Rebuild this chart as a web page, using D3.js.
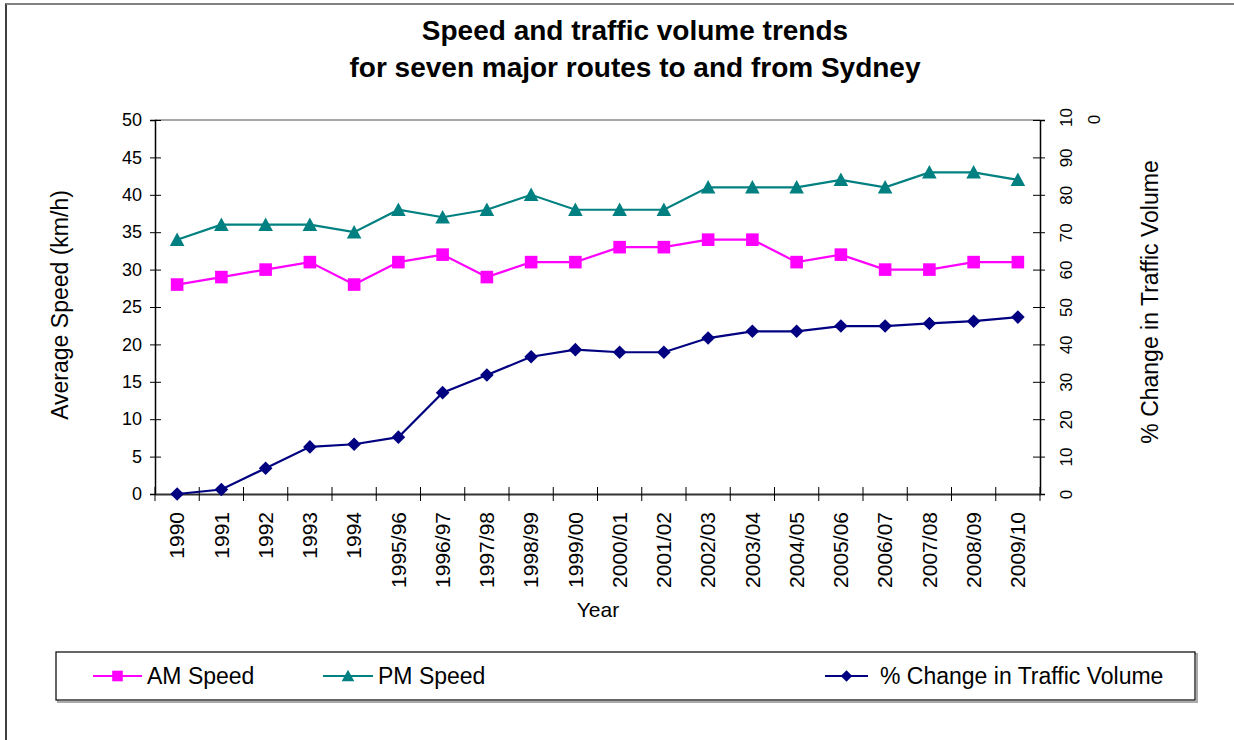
<!DOCTYPE html>
<html>
<head>
<meta charset="utf-8">
<script src="https://cdn.jsdelivr.net/npm/d3@7"></script>
<style>
  html, body { margin: 0; padding: 0; background: #fff; }
  svg { display: block; font-family: Arial, "Liberation Sans", sans-serif; }
</style>
</head>
<body>
<svg id="chart" width="1234" height="740"></svg>
<script>
const categories = ["1990","1991","1992","1993","1994","1995/96","1996/97","1997/98","1998/99","1999/00",
  "2000/01","2001/02","2002/03","2003/04","2004/05","2005/06","2006/07","2007/08","2008/09","2009/10"];
const amSpeed = [28,29,30,31,28,31,32,29,31,31,33,33,34,34,31,32,30,30,31,31];
const pmSpeed = [34,36,36,36,35,38,37,38,40,38,38,38,41,41,41,42,41,43,43,42];
const trafficChange = [0,1.2,6.9,12.6,13.3,15.2,27.1,31.8,36.7,38.6,37.9,37.9,41.7,43.5,43.5,44.9,44.9,45.6,46.2,47.3];
const leftTicks = [0,5,10,15,20,25,30,35,40,45,50];
const rightTicks = [0,10,20,30,40,50,60,70,80,90,100];
const titleLines = ["Speed and traffic volume trends", "for seven major routes to and from Sydney"];
const seriesNames = ["AM Speed", "PM Speed", "% Change in Traffic Volume"];

const svg = d3.select("#chart");
const L = 155, R = 1040, T = 120, B = 494;

// outer frame
svg.append("rect").attr("x", 6).attr("y", 4).attr("width", 1240).attr("height", 760)
  .attr("fill", "none").attr("stroke", "#000").attr("stroke-width", 1.5);
svg.append("line").attr("x1", 6).attr("x2", 1234).attr("y1", 4).attr("y2", 4)
  .attr("stroke", "#999").attr("stroke-width", 1.5);

// title
svg.append("g").selectAll("text").data(titleLines).join("text")
  .attr("x", 635).attr("y", (d, i) => 40 + i * 37)
  .attr("text-anchor", "middle").attr("font-weight", "bold").attr("font-size", 28)
  .text(d => d);

const x = d3.scaleBand().domain(categories).range([L, R]).padding(0);
const cx = c => x(c) + x.bandwidth() / 2;
const y = d3.scaleLinear().domain([0, 50]).range([B, T]);
const yR = d3.scaleLinear().domain([0, 100]).range([B, T]);

// plot top border
svg.append("line").attr("x1", L).attr("x2", R).attr("y1", T).attr("y2", T)
  .attr("stroke", "#888").attr("stroke-width", 1.5);

// left axis
const gL = svg.append("g").attr("transform", `translate(${L},0)`)
  .call(d3.axisLeft(y).tickValues(leftTicks).tickSize(5).tickPadding(8).tickFormat(d3.format("d")));
gL.select(".domain").attr("stroke", "#000").attr("stroke-width", 1.5);
gL.selectAll(".tick line").attr("x1", 6).attr("x2", -5).attr("stroke", "#000");
gL.selectAll(".tick text").attr("font-size", 18).attr("fill", "#000").attr("font-family", null);

// right axis
const gR = svg.append("g").attr("transform", `translate(${R},0)`)
  .call(d3.axisRight(yR).tickValues(rightTicks).tickSize(5).tickFormat(""));
gR.select(".domain").attr("stroke", "#000").attr("stroke-width", 1.5);
gR.selectAll(".tick line").attr("x1", -7).attr("x2", 5).attr("stroke", "#000");
gR.selectAll(".tick").each(function(d) {
  const g = d3.select(this);
  if (d === 100) {
    g.append("text").attr("transform", "translate(26,-3) rotate(-90)")
      .attr("text-anchor", "middle").attr("dy", "0.35em").attr("font-size", 17).attr("fill", "#000").text("10");
    g.append("text").attr("transform", "translate(54,-1) rotate(-90)")
      .attr("text-anchor", "middle").attr("dy", "0.35em").attr("font-size", 17).attr("fill", "#000").text("0");
  } else {
    g.append("text").attr("transform", "translate(26,0) rotate(-90)")
      .attr("text-anchor", "middle").attr("dy", "0.35em").attr("font-size", 17).attr("fill", "#000").text(d);
  }
});

// x axis
const gX = svg.append("g").attr("transform", `translate(0,${B})`)
  .call(d3.axisBottom(x).tickSize(0).tickFormat(""));
gX.select(".domain").attr("stroke", "#333").attr("stroke-width", 2);
const bounds = d3.range(categories.length + 1).map(i => L + i * x.bandwidth());
gX.append("g").selectAll("line").data(bounds).join("line")
  .attr("x1", d => d).attr("x2", d => d).attr("y1", -7).attr("y2", 7)
  .attr("stroke", "#000").attr("stroke-width", 1);
gX.append("g").selectAll("text").data(categories).join("text")
  .attr("transform", d => `translate(${cx(d)},18) rotate(-90)`)
  .attr("text-anchor", "end").attr("dy", "0.35em").attr("font-size", 21).attr("fill", "#000")
  .text(d => d);

// axis titles
svg.append("text").attr("transform", "translate(60,305) rotate(-90)")
  .attr("text-anchor", "middle").attr("dy", "0.35em").attr("font-size", 23).text("Average Speed (km/h)");
svg.append("text").attr("transform", "translate(1150,302) rotate(-90)")
  .attr("text-anchor", "middle").attr("dy", "0.35em").attr("font-size", 23).text("% Change in Traffic Volume");
svg.append("text").attr("x", 598).attr("y", 617).attr("text-anchor", "middle")
  .attr("font-size", 21).text("Year");

// markers
const sq = s => `M${-s},${-s}H${s}V${s}H${-s}Z`;
const tri = s => `M0,${-s}L${s},${s*0.85}L${-s},${s*0.85}Z`;
const dia = s => `M0,${-s}L${s},0L0,${s}L${-s},0Z`;

const series = [
  { name: seriesNames[0], values: amSpeed, scale: y, color: "#FF00FF", shape: sq, size: 6.3 },
  { name: seriesNames[1], values: pmSpeed, scale: y, color: "#008080", shape: tri, size: 7.3 },
  { name: seriesNames[2], values: trafficChange, scale: yR, color: "#000080", shape: dia, size: 6.8 }
];

series.forEach(s => {
  const line = d3.line().x((d, i) => cx(categories[i])).y(d => s.scale(d));
  svg.append("path").datum(s.values).attr("d", line)
    .attr("fill", "none").attr("stroke", s.color).attr("stroke-width", 2.2);
  svg.append("g").selectAll("path").data(s.values).join("path")
    .attr("transform", (d, i) => `translate(${cx(categories[i])},${s.scale(d)})`)
    .attr("d", s.shape(s.size)).attr("fill", s.color);
});

// legend
svg.append("rect").attr("x", 58).attr("y", 654).attr("width", 1139).attr("height", 48)
  .attr("fill", "none").attr("stroke", "#aaa").attr("stroke-width", 2);
svg.append("rect").attr("x", 56).attr("y", 652).attr("width", 1139).attr("height", 48)
  .attr("fill", "#fff").attr("stroke", "#000").attr("stroke-width", 1.2);
const legendPos = [
  { x1: 93, x2: 142, tx: 147 },
  { x1: 323, x2: 373, tx: 378 },
  { x1: 825, x2: 868, tx: 880 }
];
series.forEach((s, i) => {
  const p = legendPos[i];
  const g = svg.append("g");
  g.append("line").attr("x1", p.x1).attr("x2", p.x2).attr("y1", 676).attr("y2", 676)
    .attr("stroke", s.color).attr("stroke-width", 2.2);
  g.append("path").attr("transform", `translate(${(p.x1 + p.x2) / 2},676)`)
    .attr("d", s.shape(s.size - 1)).attr("fill", s.color);
  g.append("text").attr("x", p.tx).attr("y", 676).attr("dy", "0.35em")
    .attr("font-size", 23).text(s.name);
});
</script>
</body>
</html>
